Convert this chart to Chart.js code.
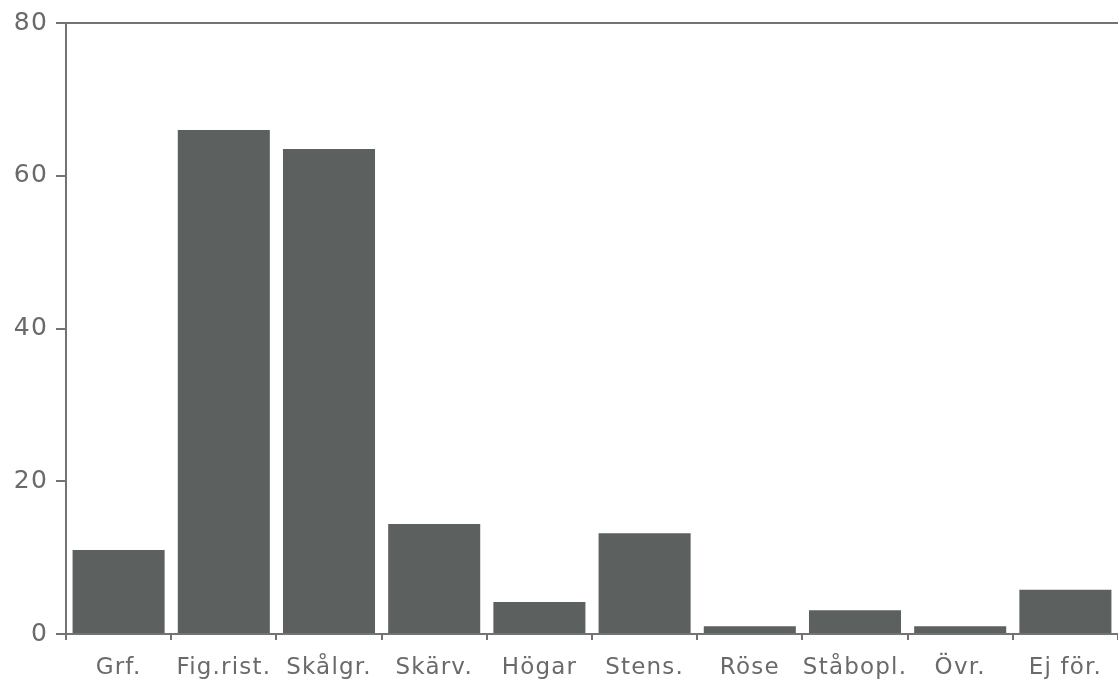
<!DOCTYPE html>
<html>
<head>
<meta charset="utf-8">
<script src="https://cdn.jsdelivr.net/npm/chart.js@4/dist/chart.umd.min.js"></script>
<style>
html,body{margin:0;padding:0;background:#fff;}
#wrap{width:1118px;height:680px;}
</style>
</head>
<body>
<div id="wrap"><canvas id="c" width="1118" height="680"></canvas></div>
<script>
const categories = ["Grf.", "Fig.rist.", "Skålgr.", "Skärv.", "Högar", "Stens.", "Röse", "Ståbopl.", "Övr.", "Ej för."];
const counts = [11, 66, 63.5, 14.4, 4.2, 13.2, 1, 3.1, 1, 5.8];
const yTickLabels = [0, 20, 40, 60, 80];

const axisGray = '#737373';
const textGray = '#6a6a6a';
const barGray = '#5c605e';

const spacingPlugin = {
  id: 'spacing',
  beforeLayout(chart) { chart.ctx.letterSpacing = '1.2px'; },
  beforeDraw(chart) { chart.ctx.letterSpacing = '1.2px'; }
};

new Chart(document.getElementById('c'), {
  type: 'bar',
  data: {
    labels: categories,
    datasets: [{
      data: counts,
      backgroundColor: barGray,
      borderWidth: 0,
      categoryPercentage: 1,
      barPercentage: 0.875
    }]
  },
  options: {
    responsive: false,
    animation: false,
    layout: { padding: { top: 12, right: 0, bottom: 0, left: 0 } },
    plugins: { legend: { display: false }, tooltip: { enabled: false } },
    scales: {
      x: {
        offset: true,
        border: { display: true, color: axisGray, width: 2 },
        grid: { offset: true, drawOnChartArea: false, drawTicks: true, tickLength: 6, color: axisGray, lineWidth: 2 },
        ticks: { color: textGray, font: { family: 'DejaVu Sans', size: 23 }, padding: 14, maxRotation: 0, autoSkip: false },
        afterFit(s) { s.height = 46; }
      },
      y: {
        min: 0, max: 80,
        border: { display: true, color: axisGray, width: 2 },
        grid: {
          drawOnChartArea: true,
          drawTicks: true,
          tickLength: 10,
          lineWidth: 2,
          color: ctx => (ctx.tick && ctx.tick.value === 80) ? axisGray : 'rgba(0,0,0,0)',
          tickColor: ctx => (ctx.tick && yTickLabels.includes(ctx.tick.value)) ? axisGray : 'rgba(0,0,0,0)'
        },
        ticks: {
          stepSize: 10,
          color: textGray,
          font: { family: 'DejaVu Sans', size: 25 },
          padding: 8,
          callback: v => yTickLabels.includes(v) ? String(v) : ''
        },
        afterFit(s) { s.width = 66; }
      }
    }
  },
  plugins: [spacingPlugin]
});
</script>
</body>
</html>
